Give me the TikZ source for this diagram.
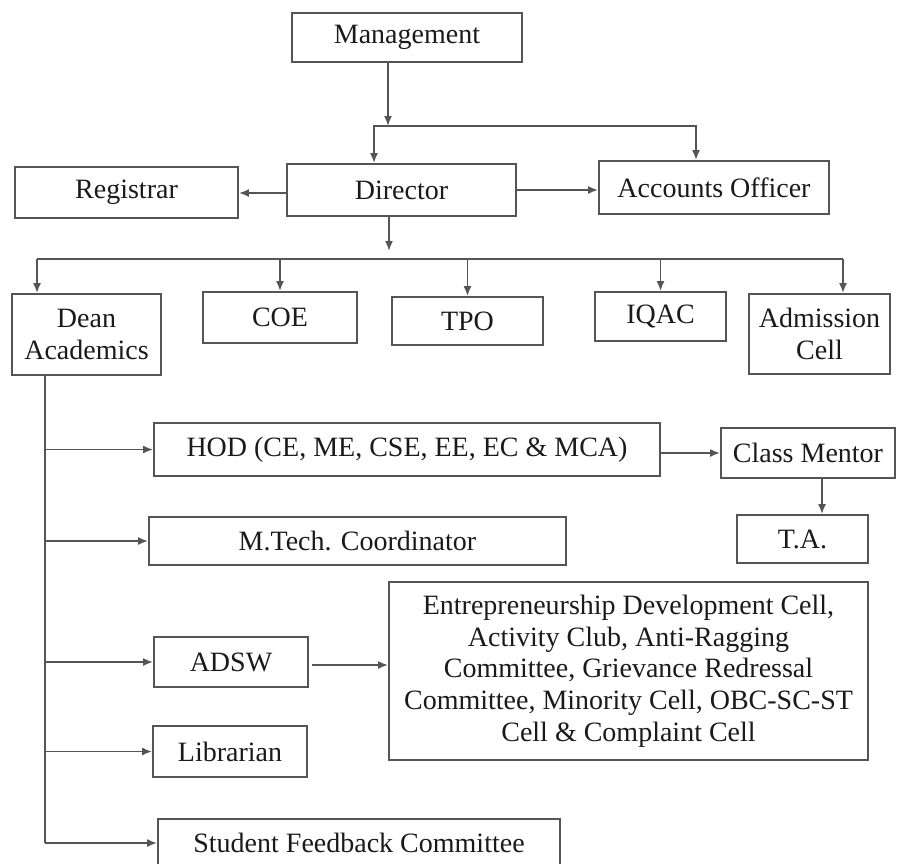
\documentclass[tikz,border=0pt]{standalone}
\usepackage{fontspec}
\setmainfont{Liberation Serif}
\usetikzlibrary{arrows.meta}
\definecolor{linegray}{HTML}{555555}
\definecolor{txt}{HTML}{1A1A1A}
\tikzset{
  box/.style={draw=linegray, line width=1.8pt, rectangle, inner sep=0pt, align=center, text=txt,
    font=\fontsize{28}{31.7}\selectfont},
  arr/.style={draw=linegray, line width=1.8pt, -{Latex[length=10pt,width=8pt]}},
  ln/.style={draw=linegray, line width=1.8pt},
}
\begin{document}
\begin{tikzpicture}[x=1pt,y=-1pt]
\useasboundingbox (0,0) rectangle (899,863);
\clip (0,0) rectangle (899,863);
% nodes
\node[box, minimum width=230pt, minimum height=49pt] (mgmt) at (407,37.5) {Management};
\node[box, minimum width=223pt, minimum height=51pt] (reg) at (126.5,192.5) {Registrar};
\node[box, minimum width=229pt, minimum height=52pt] (dir) at (401.5,190) {Director};
\node[box, minimum width=230pt, minimum height=53pt] (acc) at (714,187.5) {Accounts Officer};
\node[box, minimum width=149pt, minimum height=81pt] (dean) at (86.5,334.5) {Dean\\Academics};
\node[box, minimum width=154pt, minimum height=51pt] (coe) at (280,317.5) {COE};
\node[box, minimum width=151pt, minimum height=48pt] (tpo) at (467.5,321) {TPO};
\node[box, minimum width=131pt, minimum height=49pt] (iqac) at (660.5,316.5) {IQAC};
\node[box, minimum width=141pt, minimum height=80pt] (adm) at (819.5,334) {Admission\\Cell};
\node[box, minimum width=506pt, minimum height=53pt] (hod) at (407,449.5) {HOD (CE, ME, CSE, EE, EC \& MCA)};
\node[box, minimum width=174pt, minimum height=50pt] (cm) at (808,453) {Class Mentor};
\node[box, minimum width=131pt, minimum height=48pt] (ta) at (802.5,539) {T.A.};
\node[box, minimum width=417pt, minimum height=48pt] (mtech) at (357.5,541) {M.Tech. Coordinator};
\node[box, minimum width=154pt, minimum height=50pt] (adsw) at (231,662) {ADSW};
\node[box, minimum width=479pt, minimum height=178pt] (big) at (628.5,671) {Entrepreneurship Development Cell,\\Activity Club, Anti-Ragging\\Committee, Grievance Redressal\\Committee, Minority Cell, OBC-SC-ST\\Cell \& Complaint Cell};
\node[box, minimum width=154pt, minimum height=51pt] (lib) at (230,751.5) {Librarian};
\node[box, minimum width=402pt, minimum height=48pt] (sfc) at (359,843) {Student Feedback Committee};
% top connectors
\coordinate (j1) at (388,126);
\draw[arr] ([xshift=-19pt]mgmt.south) -- (j1);
\draw[arr] (j1) -| ([xshift=-27.5pt]dir.north);
\draw[arr] (j1) -| ([xshift=-18pt]acc.north);
\draw[arr] ([yshift=-3pt]dir.west) -- ([yshift=-3pt]dir.west -| reg.east);
\draw[arr] (dir.east) -- (dir.east -| acc.west);
% director to bus
\coordinate (busL) at (37,259);
\coordinate (busR) at (843,259);
\draw[arr] ([xshift=-12.5pt]dir.south) -- ([xshift=-12.5pt]dir.south |- 0,251);
\draw[ln] (busL) -- (busR);
\draw[arr] (busL) -- (busL |- dean.north);
\draw[arr] (coe.north |- busL) -- (coe.north);
\draw[arr] (tpo.north |- busL) -- (tpo.north);
\draw[arr] (iqac.north |- busL) -- (iqac.north);
\draw[arr] (busR) -- (busR |- adm.north);
% dean vertical
\coordinate (dv) at (45,843);
\draw[ln] (dv |- dean.south) -- (dv);
\draw[arr] (hod.west -| dv) -- (hod.west);
\draw[arr] (mtech.west -| dv) -- (mtech.west);
\draw[arr] (adsw.west -| dv) -- (adsw.west);
\draw[arr] (lib.west -| dv) -- (lib.west);
\draw[arr] (dv) -- (sfc.west);
% right side
\draw[arr] (hod.east |- cm.west) -- (cm.west);
\draw[arr] ([xshift=14pt]cm.south) -- ([xshift=14pt]cm.south |- ta.north);
\draw[arr] ([xshift=3pt,yshift=-3pt]adsw.east) -- ([yshift=-3pt]adsw.east -| big.west);
\end{tikzpicture}
\end{document}
